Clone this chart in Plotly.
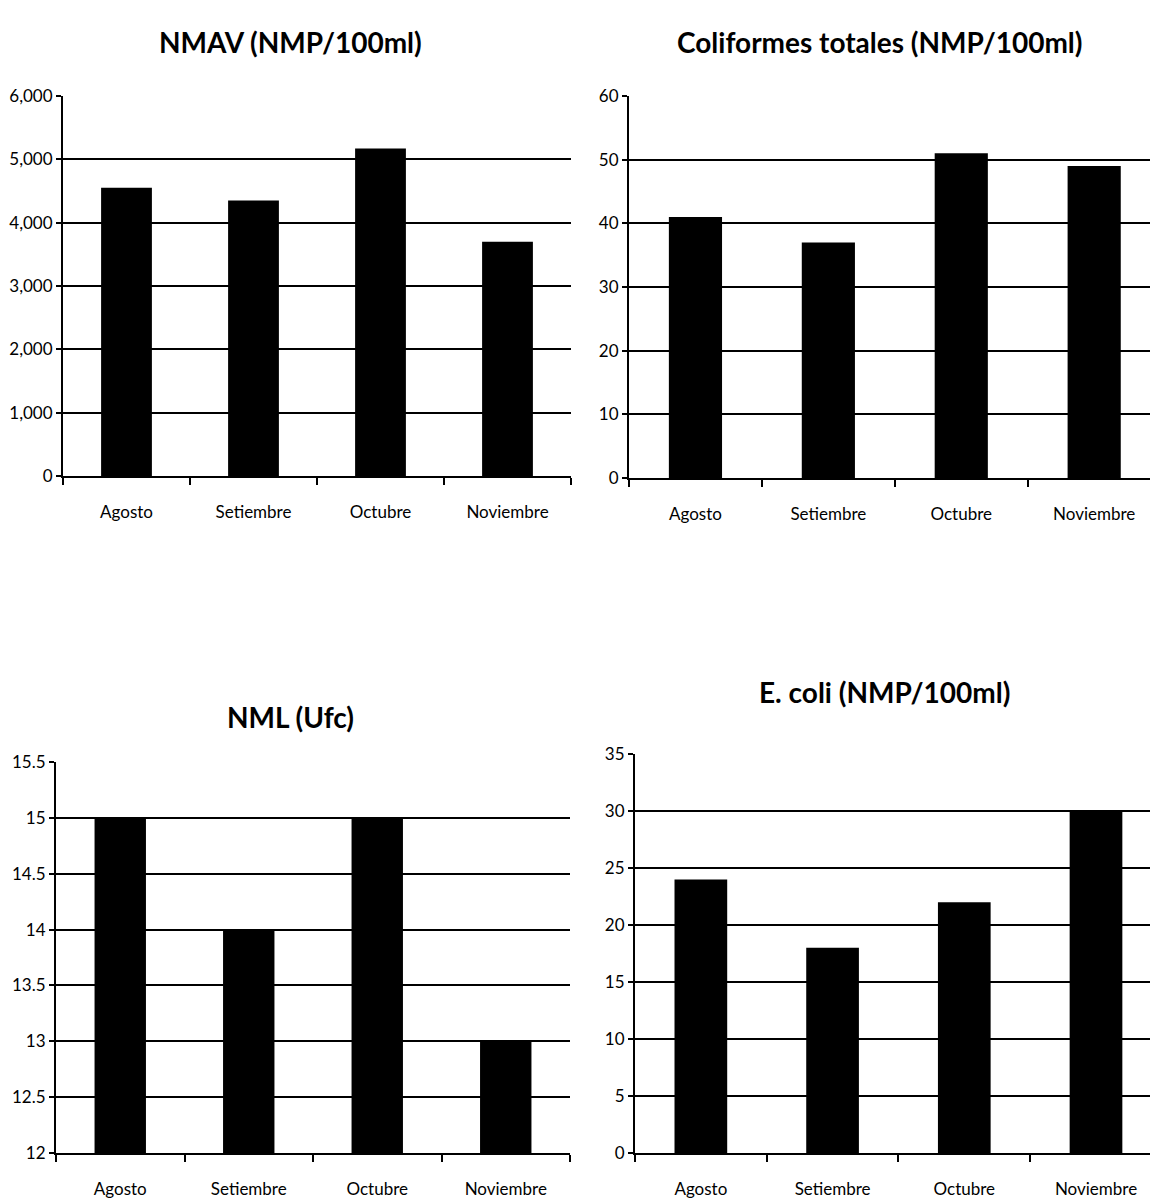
import plotly.graph_objects as go

months = ["Agosto", "Setiembre", "Octubre", "Noviembre"]
nmav = [4550, 4350, 5170, 3700]
coliformes = [41, 37, 51, 49]
nml = [15, 14, 15, 13]
ecoli = [24, 18, 22, 30]

titles = ["NMAV (NMP/100ml)", "Coliformes totales (NMP/100ml)", "NML (Ufc)", "E. coli (NMP/100ml)"]

W, H = 1150, 1201
FONT = "Lato"

def px_x(p):
    return p / W

def px_y(p):
    return 1 - p / H

fig = go.Figure()

panels = [
    dict(vals=nmav, xd=(63, 571), yd=(96, 476), yr=(0, 6000), dt=1000, fmt=",d", xr=3.5, tpos=(290, 42)),
    dict(vals=coliformes, xd=(629, 1150), yd=(96, 478), yr=(0, 60), dt=10, fmt="d", xr=3.42, tpos=(880, 42)),
    dict(vals=nml, xd=(56, 570), yd=(762, 1153), yr=(12, 15.5), dt=0.5, fmt="", xr=3.5, tpos=(290, 717)),
    dict(vals=ecoli, xd=(635, 1150), yd=(754, 1153), yr=(0, 35), dt=5, fmt="d", xr=3.41, tpos=(884, 692)),
]

for i, p in enumerate(panels):
    n = "" if i == 0 else str(i + 1)
    lo = p["yr"][0]
    fig.add_trace(go.Bar(
        x=months, y=[v - lo for v in p["vals"]], base=lo,
        xaxis="x" + n, yaxis="y" + n,
        marker=dict(color="black", line=dict(width=0)),
        showlegend=False,
    ))
    fig.update_layout(**{
        "xaxis" + n: dict(
            domain=[px_x(p["xd"][0]), px_x(p["xd"][1])],
            anchor="y" + n,
            range=[-0.5, p["xr"]],
            type="category",
            automargin=False,
            showline=True, linecolor="black", linewidth=2,
            ticks="outside", tickson="boundaries", ticklen=7, tickcolor="black", tickwidth=2,
            tickfont=dict(family=FONT, size=17, color="black"),
            ticklabelstandoff=20,
            showgrid=False, zeroline=False,
        ),
        "yaxis" + n: dict(
            domain=[px_y(p["yd"][1]), px_y(p["yd"][0])],
            anchor="x" + n,
            range=list(p["yr"]),
            dtick=p["dt"], tick0=lo,
            tickformat=p["fmt"],
            automargin=False,
            showline=True, linecolor="black", linewidth=2,
            ticks="outside", ticklen=5, tickcolor="black", tickwidth=2,
            tickfont=dict(family=FONT, size=17, color="black"),
            showgrid=True, gridcolor="black", gridwidth=2,
            zeroline=False,
        ),
    })
    fig.add_annotation(
        text="<b>" + titles[i] + "</b>", x=px_x(p["tpos"][0]), y=px_y(p["tpos"][1]),
        xref="paper", yref="paper", showarrow=False,
        font=dict(family=FONT, size=28, color="black"),
        xanchor="center", yanchor="middle",
    )

fig.update_layout(
    width=W, height=H,
    margin=dict(l=0, r=0, t=0, b=0, autoexpand=False),
    paper_bgcolor="white", plot_bgcolor="white",
    bargap=0.6,
)

fig.write_html(
    "out.html",
    config={"displayModeBar": False},
    post_script="document.body.style.margin='0';document.body.style.overflow='hidden';",
)
